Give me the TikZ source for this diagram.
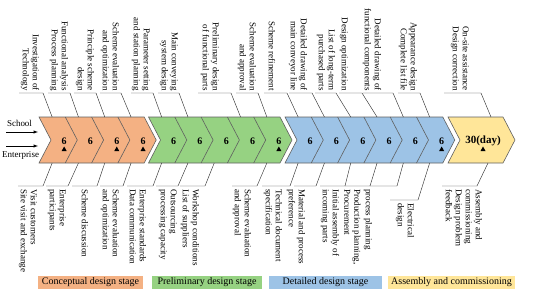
\documentclass[tikz,border=0pt]{standalone}
\usepackage{fontspec}
\setmainfont{Liberation Serif}
\usepackage{xcolor}
\definecolor{stageorange}{RGB}{244,177,131}
\definecolor{stagegreen}{RGB}{150,210,130}
\definecolor{stageblue}{RGB}{157,195,230}
\definecolor{stageyellow}{RGB}{255,230,153}
\definecolor{edgegrey}{RGB}{96,96,96}

% #1 segment, #2 text centre, #3/#4 underline ends, #5 text
\newcommand{\schoolnote}[5]{%
  \node[toplab] (tl#1) at (#2,91) {#5};
  \coordinate (tu#1) at (#3,93);
  \coordinate (tv#1) at (#4,93);
  \draw[leader] (tu#1) -- (tv#1) -- (st#1);}
% #1 segment, #2 text centre, #3/#4 underline ends, #5 underline height, #6 text
\newcommand{\firmnote}[6]{%
  \node[botlab] (bl#1) at (#2,#5+3) {#6};
  \coordinate (bu#1) at (#3,#5);
  \coordinate (bv#1) at (#4,#5);
  \draw[leader] (bu#1) -- (bv#1) -- (sb#1);}

\begin{document}
\begin{tikzpicture}[x=1pt, y=-1pt,
  toplab/.style={rotate=-90, anchor=east, align=right, inner sep=0pt,
    font=\fontsize{9}{10}\selectfont},
  botlab/.style={rotate=-90, anchor=west, align=left, inner sep=0pt,
    font=\fontsize{9}{10}\selectfont},
  leader/.style={draw=black!80, line width=0.45pt},
  daynum/.style={inner sep=0pt, font=\bfseries\fontsize{10}{10}\selectfont},
  legendbox/.style={minimum height=13pt, inner sep=0pt,
    font=\fontsize{10}{12}\selectfont}]
  \useasboundingbox (0,0) rectangle (550,295);

  % stage chevrons
  \foreach \col/\xs/\xe in {stageorange/39/144.2, stagegreen/148.5/280,
      stageblue/285/442.8, stageyellow/448/503}{
    \draw[fill=\col, draw=edgegrey, line width=0.6pt]
      (\xs,117) -- (\xe,117) -- ({\xe+12},140) -- (\xe,163)
      -- (\xs,163) -- ({\xs+12},140) -- cycle;
  }
  % inner dividers
  \foreach \xd in {65.3,91.6,117.9,174.8,201.1,227.4,253.7,
      311.3,337.6,363.9,390.2,416.5}{
    \draw[edgegrey, line width=0.6pt] (\xd,117) -- ({\xd+12},140) -- (\xd,163);
  }

  % 6-day blocks
  \foreach \seg/\xb/\tri in {1/39/1, 2/65.3/0, 3/91.6/1, 4/117.9/1,
      5/148.5/0, 6/174.8/0, 7/201.1/0, 8/227.4/0, 9/253.7/1,
      10/285/0, 11/311.3/0, 12/337.6/0, 13/363.9/0, 14/390.2/0, 15/416.5/1}{
    \coordinate (st\seg) at ({\xb+13.15},117);
    \coordinate (sb\seg) at ({\xb+13.15},163);
    \node[daynum] (d\seg) at ({\xb+25.15},141) {6};
    \ifnum\tri=1
      \fill ({\xb+22.65},151) -- ({\xb+27.65},151) -- ({\xb+25.15},146.5) -- cycle;
    \fi
  }
  \coordinate (st16) at (491,117);
  \coordinate (sb16) at (488,163);
  \node[daynum, font=\bfseries\fontsize{11}{11}\selectfont] (d16) at (483,141) {30(day)};
  \fill (480.5,151) -- (485.5,151) -- (483,146.5) -- cycle;

  % school side
  \schoolnote{1}{30}{19}{43}{Investigation of\\Technology}
  \schoolnote{2}{59}{48}{70}{Functional analysis\\Process planning}
  \schoolnote{3}{85}{74}{96}{Principle scheme\\design}
  \schoolnote{4}{110}{100}{121}{Scheme evaluation\\and optimization}
  \schoolnote{5}{141}{131}{153}{Parameter setting\\and station planning}
  \schoolnote{6}{169}{158}{179}{Main conveying\\system design}
  \schoolnote{8}{210}{198}{231}{Preliminary design\\of functional parts}
  \schoolnote{9}{247}{236}{258}{Scheme evaluation\\and approval}
  \schoolnote{10}{272}{264}{287}{Scheme refinement}
  \schoolnote{11}{298}{289}{312}{Detailed drawing of\\main conveyor line}
  \schoolnote{12}{326}{315}{336}{List of long-term\\purchased parts}
  \schoolnote{13}{344}{339}{362}{Design optimization}
  \schoolnote{14}{372}{363}{393}{Detailed drawing of\\functional components}
  \schoolnote{15}{408}{398}{420}{Appearance design\\Complete list file}
  \schoolnote{16}{460}{444}{481}{On-site assistance\\Design correction}

  % enterprise side
  \firmnote{1}{28}{18}{43}{186}{Visit customers\\Site visit and exchange}
  \firmnote{2}{57}{46}{68}{186}{Enterprise\\participants}
  \firmnote{3}{85}{72}{97}{186}{Scheme discussion}
  \firmnote{4}{110}{100}{123}{186}{Scheme evaluation\\and optimization}
  \firmnote{5}{138}{127}{153}{186}{Enterprise standards\\Data communication}
  \firmnote{6}{168}{156}{178}{186}{Outsourcing\\processing capacity}
  \firmnote{7}{190}{180}{205}{186}{Workshop conditions\\List of suppliers}
  \firmnote{9}{242}{232}{257}{186}{Scheme evaluation\\and approval}
  \firmnote{10}{273}{262}{290}{186}{Technical document\\specification}
  \firmnote{11}{296}{294}{316}{186}{Material and process\\preference}
  \firmnote{12}{330}{320}{345}{186}{Initial assembly of\\incoming parts}
  \firmnote{13}{352.5}{345}{370}{186}{Production planning,\\Procurement}
  \firmnote{14}{368}{370}{397}{186}{process planning}
  \firmnote{15}{405}{390}{418}{200}{Electrical\\design}
  \firmnote{16}{464}{442}{477}{186}{Assembly and\\commissioning\\Design problem\\feedback}

  % inputs
  \node[inner sep=0pt, font=\fontsize{9}{10}\selectfont] (school) at (19.5,123) {School};
  \coordinate (schoolfrom) at (6,132);
  \coordinate (schoolto) at (38,132);
  \draw[-latex, line width=0.5pt] (schoolfrom) -- (schoolto);
  \node[inner sep=0pt, font=\fontsize{9}{10}\selectfont] (enterprise) at (20.5,155) {Enterprise};
  \coordinate (entfrom) at (6,146);
  \coordinate (entto) at (38,146);
  \draw[-latex, line width=0.5pt] (entfrom) -- (entto);

  % legend
  \node[legendbox, fill=stageorange, minimum width=105pt] (lgorange) at (90.5,282.5) {Conceptual design stage};
  \node[legendbox, fill=stagegreen, minimum width=110pt] (lggreen) at (207,282.5) {Preliminary design stage};
  \node[legendbox, fill=stageblue, minimum width=113pt] (lgblue) at (325.5,282.5) {Detailed design stage};
  \node[legendbox, fill=stageyellow, minimum width=127pt] (lgyellow) at (451.5,282.5) {Assembly and commissioning};
\end{tikzpicture}
\end{document}
